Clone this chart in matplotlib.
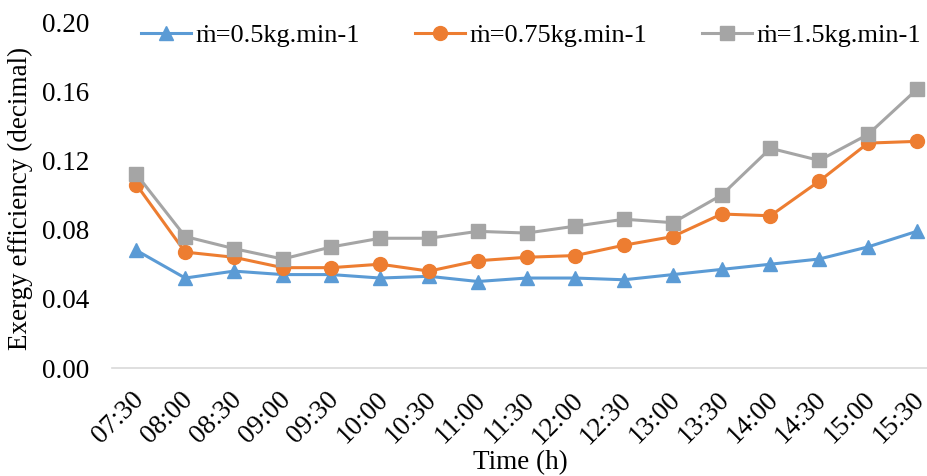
import matplotlib

matplotlib.use("Agg")
import matplotlib.pyplot as plt
import matplotlib.transforms as mtransforms

times = ["07:30", "08:00", "08:30", "09:00", "09:30", "10:00", "10:30", "11:00",
         "11:30", "12:00", "12:30", "13:00", "13:30", "14:00", "14:30", "15:00", "15:30"]

eff_05 = [0.068, 0.052, 0.056, 0.054, 0.054, 0.052, 0.053, 0.050, 0.052,
          0.052, 0.051, 0.054, 0.057, 0.060, 0.063, 0.070, 0.079]
eff_075 = [0.106, 0.067, 0.064, 0.058, 0.058, 0.060, 0.056, 0.062, 0.064,
           0.065, 0.071, 0.076, 0.089, 0.088, 0.108, 0.130, 0.131]
eff_15 = [0.112, 0.076, 0.069, 0.063, 0.070, 0.075, 0.075, 0.079, 0.078,
          0.082, 0.086, 0.084, 0.100, 0.127, 0.120, 0.135, 0.161]

labels = ["ṁ=0.5kg.min-1", "ṁ=0.75kg.min-1", "ṁ=1.5kg.min-1"]
yticks = [0.00, 0.04, 0.08, 0.12, 0.16, 0.20]

plt.rcParams["font.family"] = ["Liberation Serif", "DejaVu Serif"]
plt.rcParams["font.size"] = 19.5

fig = plt.figure(figsize=(9.28, 4.76), dpi=100)
ax = fig.add_axes([112 / 928, 1 - 368 / 476, 1 - 112 / 928, 346 / 476])

x = list(range(len(times)))
ax.plot(x, eff_05, color="#5B9BD5", lw=2.2, marker="^", ms=10, label=labels[0])
ax.plot(x, eff_075, color="#ED7D31", lw=2.2, marker="o", ms=10, label=labels[1])
ax.plot(x, eff_15, color="#A5A5A5", lw=2.2, marker="s", ms=10, label=labels[2])

ax.set_xlim(-0.5, 16.23)
ax.set_ylim(0, 0.2)
ax.set_yticks(yticks)
ax.set_yticklabels([f"{v:.2f}" for v in yticks])
ax.set_xticks(x)
ax.set_xticklabels(times, rotation=45, ha="right", va="top", rotation_mode="anchor")
ax.tick_params(axis="y", length=0, pad=16.5)
ax.tick_params(axis="x", length=0, pad=14)

# nudge the rotated time labels a little to the left
shift = mtransforms.ScaledTranslation(-5 / 100, 0, fig.dpi_scale_trans)
for lbl in ax.get_xticklabels():
    lbl.set_transform(lbl.get_transform() + shift)

for s in ["top", "right", "left"]:
    ax.spines[s].set_visible(False)
ax.spines["bottom"].set_color("#D9D9D9")
ax.spines["bottom"].set_linewidth(1.2)

ax.set_xlabel("Time (h)", labelpad=1)
ax.set_ylabel("Exergy efficiency (decimal)")
ax.yaxis.set_label_coords(-0.097, 0.49)

fig.legend(loc="upper center", bbox_to_anchor=(0.572, 1.0), ncol=3, frameon=False,
           fontsize=19, handlelength=1.9, columnspacing=2.1, handletextpad=0.15)

fig.savefig("out.png", dpi=100, facecolor="white")
